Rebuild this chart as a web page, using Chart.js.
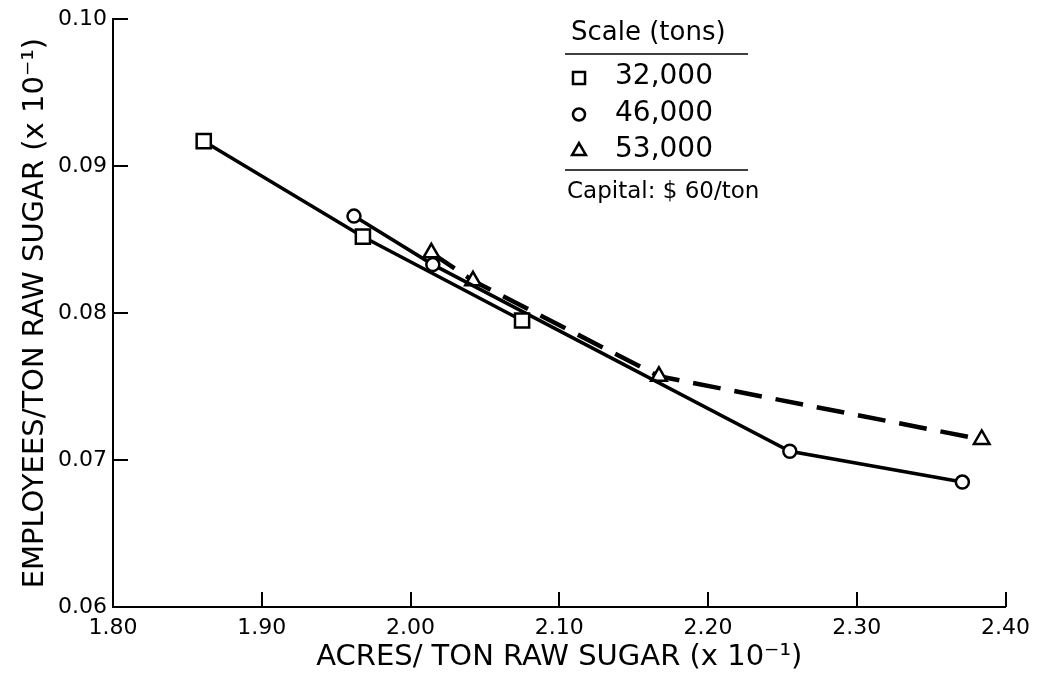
<!DOCTYPE html>
<html>
<head>
<meta charset="utf-8">
<title>Employees vs acres per ton raw sugar</title>
<script src="https://cdn.jsdelivr.net/npm/chart.js@4.4.1/dist/chart.umd.min.js"></script>
<style>
  html, body { margin: 0; padding: 0; background: #fff; }
  #grafica { display: block; }
</style>
</head>
<body>
<canvas id="grafica" width="1038" height="678"></canvas>
<script>
// acres / ton raw sugar (x 10^-1) and employees / ton raw sugar (x 10^-1)
var acres32 = [1.861, 1.968, 2.075];
var empleados32 = [0.0917, 0.0852, 0.0795];

var acres46 = [1.962, 2.015, 2.255, 2.371];
var empleados46 = [0.0866, 0.0833, 0.0706, 0.0685];

var acres53 = [2.014, 2.042, 2.167, 2.384];
var empleados53 = [0.0841, 0.0822, 0.0757, 0.0714];

var escalas = ["32,000", "46,000", "53,000"];
var ticksX = [1.80, 1.90, 2.00, 2.10, 2.20, 2.30, 2.40];
var ticksY = [0.06, 0.07, 0.08, 0.09, 0.10];

var FUENTE = "'DejaVu Sans', sans-serif";

function armarPuntos(xs, ys){
    var puntos = [];
    for(var i = 0; i < xs.length; i++){
        puntos.push({ x: xs[i], y: ys[i] });
    }
    return puntos;
}

// marker used both in the plot and in the key
function dibujarMarca(ctx, estilo, x, y, r){
    ctx.beginPath();
    if(estilo == "rect"){
        var s = r * Math.SQRT1_2;
        ctx.rect(x - s, y - s, 2 * s, 2 * s);
    } else if(estilo == "triangle"){
        ctx.moveTo(x, y - r);
        ctx.lineTo(x + r * Math.sin(Math.PI / 3), y + r * 0.5);
        ctx.lineTo(x - r * Math.sin(Math.PI / 3), y + r * 0.5);
        ctx.closePath();
    } else {
        ctx.arc(x, y, r, 0, Math.PI * 2);
    }
    ctx.fillStyle = "#fff";
    ctx.fill();
    ctx.lineWidth = 2.5;
    ctx.strokeStyle = "#000";
    ctx.stroke();
}

//-------------------
//- inward tick marks
//-------------------
var marcasInternas = {
    id: "marcasInternas",
    afterDatasetsDraw: function(chart){
        var ctx = chart.ctx;
        var area = chart.chartArea;
        var sx = chart.scales.x, sy = chart.scales.y;
        ctx.save();
        ctx.strokeStyle = "#000";
        ctx.lineWidth = 2;
        ctx.beginPath();
        for(var i = 1; i < ticksX.length; i++){
            var px = Math.round(sx.getPixelForValue(ticksX[i]));
            ctx.moveTo(px, area.bottom);
            ctx.lineTo(px, area.bottom - 15);
        }
        for(var j = 1; j < ticksY.length; j++){
            var py = Math.round(sy.getPixelForValue(ticksY[j]));
            ctx.moveTo(area.left, py);
            ctx.lineTo(area.left + 15, py);
        }
        ctx.stroke();
        ctx.restore();
    }
};

//----------
//- the key
//----------
var cuadroEscalas = {
    id: "cuadroEscalas",
    afterDraw: function(chart){
        var ctx = chart.ctx;
        var estilos = ["rect", "circle", "triangle"];
        var radios = [8.5, 6, 8];
        ctx.save();
        ctx.fillStyle = "#000";
        ctx.textBaseline = "middle";
        ctx.textAlign = "left";

        ctx.font = "26px " + FUENTE;
        ctx.fillText("Scale (tons)", 571, 33);

        ctx.strokeStyle = "#000";
        ctx.lineWidth = 1.5;
        ctx.beginPath();
        ctx.moveTo(565, 54);
        ctx.lineTo(748, 54);
        ctx.moveTo(565, 170);
        ctx.lineTo(748, 170);
        ctx.stroke();

        ctx.font = "28px " + FUENTE;
        for(var i = 0; i < escalas.length; i++){
            var y = 77 + i * 36.5;
            dibujarMarca(ctx, estilos[i], 579, y + 1, radios[i]);
            ctx.fillStyle = "#000";
            ctx.fillText(escalas[i], 615, y);
        }

        ctx.font = "23px " + FUENTE;
        ctx.fillText("Capital: $ 60/ton", 567, 192);
        ctx.restore();
    }
};

var datos = {
    datasets: [
        {
            label: escalas[0],
            data: armarPuntos(acres32, empleados32),
            showLine: true,
            borderColor: "#000",
            borderWidth: 3.5,
            pointStyle: "rect",
            pointRadius: 10,
            pointBorderWidth: 2.5,
            pointBackgroundColor: "#fff",
            pointBorderColor: "#000"
        },
        {
            label: escalas[1],
            data: armarPuntos(acres46, empleados46),
            showLine: true,
            borderColor: "#000",
            borderWidth: 3.5,
            pointStyle: "circle",
            pointRadius: 6.5,
            pointBorderWidth: 2.5,
            pointBackgroundColor: "#fff",
            pointBorderColor: "#000"
        },
        {
            label: escalas[2],
            data: armarPuntos(acres53, empleados53),
            showLine: true,
            borderColor: "#000",
            borderWidth: 4.5,
            borderDash: [28, 14],
            pointStyle: "triangle",
            pointRadius: 9,
            pointBorderWidth: 2.5,
            pointBackgroundColor: "#fff",
            pointBorderColor: "#000"
        }
    ]
};

var opciones = {
    responsive: false,
    animation: false,
    layout: { padding: { top: 17, right: 30, left: 0, bottom: 0 } },
    plugins: {
        legend: { display: false },
        tooltip: { enabled: false }
    },
    scales: {
        x: {
            type: "linear",
            min: 1.80,
            max: 2.40,
            afterFit: function(scale){ scale.height = 71; },
            afterBuildTicks: function(scale){
                scale.ticks = ticksX.map(function(v){ return { value: v }; });
            },
            ticks: {
                padding: 8,
                color: "#000",
                maxRotation: 0,
                font: { family: FUENTE, size: 22 },
                callback: function(v){ return Number(v).toFixed(2); }
            },
            grid: { display: false, drawTicks: false },
            border: { display: true, color: "#000", width: 2 },
            title: {
                display: true,
                text: "ACRES/ TON RAW SUGAR (x 10\u207B\u00B9)",
                color: "#000",
                font: { family: FUENTE, size: 29 },
                padding: { top: 0, bottom: 3 }
            }
        },
        y: {
            type: "linear",
            min: 0.06,
            max: 0.10,
            afterFit: function(scale){ scale.width = 113; },
            afterBuildTicks: function(scale){
                scale.ticks = ticksY.map(function(v){ return { value: v }; });
            },
            ticks: {
                padding: 6,
                color: "#000",
                font: { family: FUENTE, size: 22 },
                callback: function(v){ return Number(v).toFixed(2); }
            },
            grid: { display: false, drawTicks: false },
            border: { display: true, color: "#000", width: 2 },
            title: {
                display: true,
                text: "EMPLOYEES/TON RAW SUGAR (x 10\u207B\u00B9)",
                color: "#000",
                font: { family: FUENTE, size: 29 },
                padding: { top: 18, bottom: 0 }
            }
        }
    }
};

var grafica = new Chart(document.getElementById("grafica").getContext("2d"), {
    type: "scatter",
    data: datos,
    options: opciones,
    plugins: [marcasInternas, cuadroEscalas]
});
</script>
</body>
</html>
